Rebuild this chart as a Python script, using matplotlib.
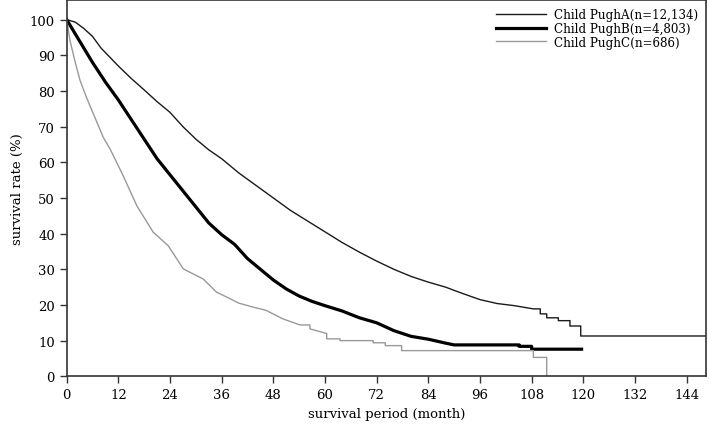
import matplotlib
matplotlib.use("Agg")
import matplotlib.pyplot as plt

plt.rcParams["font.family"] = ["DejaVu Serif"]

# survival curves (month, %)
t_a = [0, 2, 4, 6, 8, 10, 12, 15, 18, 21, 24, 27, 30, 33, 36, 40, 44, 48, 52, 56,
       60, 64, 68, 72, 76, 80, 84, 88, 92, 96, 100, 104, 108.4, 110, 110,
       111.5, 111.5, 114.2, 114.2, 116.9, 116.9, 119.4, 119.4, 148.5]
s_a = [100, 99.3, 97.5, 95.3, 92, 89.5, 87, 83.5, 80.3, 77, 74, 70, 66.5, 63.5, 61,
       57, 53.5, 50, 46.5, 43.5, 40.5, 37.5, 34.8, 32.3, 30, 28, 26.4, 25, 23.2,
       21.5, 20.4, 19.8, 18.9, 18.9, 17.5, 17.5, 16.4, 16.4, 15.6, 15.6, 14.1,
       14.1, 11.3, 11.3]

t_b = [0, 3, 6, 9, 12, 15, 18, 21, 24, 27, 30, 33, 36, 39, 42, 45, 48, 51, 54, 57,
       60, 64, 68, 72, 76, 80, 84, 88, 90, 105.1, 105.1, 108, 108, 119.6]
s_b = [100, 94, 88, 82.5, 77.5, 72, 66.5, 61, 56.5, 52, 47.5, 43, 39.7, 37, 33, 30,
       27, 24.5, 22.5, 21, 19.8, 18.3, 16.4, 15, 12.8, 11.2, 10.4, 9.3, 8.8, 8.8,
       8.4, 8.4, 7.6, 7.6]

t_c = [0, 0.8, 1.9, 3.1, 4.6, 6.2, 8.5, 10.1, 13.1, 16.3, 20.1, 23.6, 27.1, 31.7,
       34.8, 37.2, 40, 43, 46.3, 50.2, 54.2, 56.5, 56.5, 60.4, 60.4, 63.5, 63.5,
       71.2, 71.2, 74, 74, 77.8, 77.8, 108.4, 108.4, 111.5, 111.5]
s_c = [100, 94, 88.5, 83, 78.2, 73.6, 67, 63.7, 56.3, 47.8, 40.4, 36.6, 30.1, 27.3,
       23.6, 22.2, 20.5, 19.5, 18.5, 16.1, 14.4, 14.4, 13.3, 12, 10.5, 10.5, 10,
       10, 9.4, 9.4, 8.6, 8.6, 7.2, 7.2, 5.3, 5.3, 0]

labels = ["Child PughA(n=12,134)", "Child PughB(n=4,803)", "Child PughC(n=686)"]
x_ticks = list(range(0, 145, 12))
y_ticks = list(range(0, 101, 10))

fig = plt.figure(figsize=(7.09, 4.31), dpi=100)
ax = fig.add_axes([0.094, 0.1246, 0.9018, 0.8731])

ax.plot(t_a, s_a, color="#1a1a1a", lw=1.0, label=labels[0])
ax.plot(t_b, s_b, color="black", lw=2.3, label=labels[1])
ax.plot(t_c, s_c, color="#999999", lw=1.0, label=labels[2])

ax.set_xlim(0, 148.5)
ax.set_ylim(0, 105.5)
ax.set_xticks(x_ticks)
ax.set_yticks(y_ticks)
ax.tick_params(direction="out", length=5, width=1, labelsize=9.5, colors="#333333",
               labelcolor="black")
for sp in ax.spines.values():
    sp.set_color("#333333")
    sp.set_linewidth(1.2)

ax.set_xlabel("survival period (month)", fontsize=9.5)
ax.set_ylabel("survival rate (%)", fontsize=9.5)

leg = ax.legend(loc="upper right", frameon=False, fontsize=8.6, handlelength=4.2,
                handletextpad=0.6, labelspacing=0.05, borderaxespad=0.3)

plt.savefig("out.png", dpi=100)
